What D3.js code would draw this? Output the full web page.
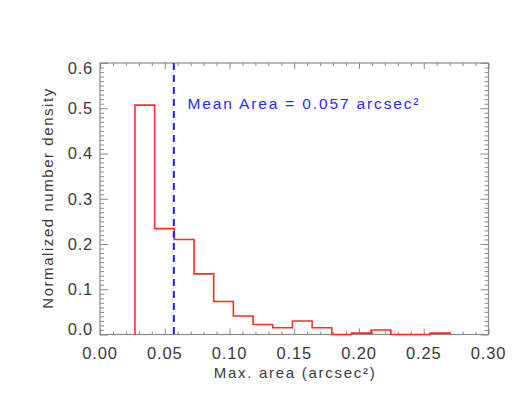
<!DOCTYPE html>
<html>
<head>
<meta charset="utf-8">
<script src="https://cdn.jsdelivr.net/npm/d3@7"></script>
<style>
  html, body { margin: 0; padding: 0; background: #fff; }
  svg text { font-family: "Liberation Sans", Arial, sans-serif; }
</style>
</head>
<body>
<svg id="chart" width="518" height="414"></svg>
<script>
// ---- data ----
const binLeft = [0.0270, 0.0422, 0.0574, 0.0726, 0.0878, 0.1030, 0.1182, 0.1334,
                 0.1486, 0.1638, 0.1790, 0.1942, 0.2094, 0.2246, 0.2398, 0.2550];
const binRightEnd = 0.2702;
const density = [0.507, 0.234, 0.210, 0.134, 0.073, 0.041, 0.022, 0.015,
                 0.030, 0.015, 0.000, 0.003, 0.010, 0.000, 0.000, 0.003];
const meanArea = 0.057;
const xTicks = [0.00, 0.05, 0.10, 0.15, 0.20, 0.25, 0.30];
const yTicks = [0.0, 0.1, 0.2, 0.3, 0.4, 0.5, 0.6];
const xLabel = "Max. area (arcsec²)";
const yLabel = "Normalized number density";
const meanLabel = "Mean Area = 0.057 arcsec²";

// ---- layout ----
const L = 100, R = 488.5, T = 63, B = 334.5;
const svg = d3.select("#chart");
const x = d3.scaleLinear().domain([0, 0.3]).range([L, R]);
const y = d3.scaleLinear().domain([0, 0.6]).range([B, T]);

const axisColor = "#8a8a8a";
const textColor = "#3a3a3a";

const xMinor = d3.range(0, 31).map(i => i / 100);
const yMinor = d3.range(0, 61).map(i => i / 100);

const g = svg.append("g");

function isMajor(v, step) { return Math.abs(v / step - Math.round(v / step)) < 1e-6; }

g.append("g").attr("transform", `translate(0,${B})`)
  .call(d3.axisBottom(x).tickValues(xMinor).tickSizeInner(0).tickSizeOuter(0).tickFormat(""))
  .call(a => a.select(".domain").remove())
  .call(a => a.selectAll(".tick line").attr("y2", d => isMajor(d, 0.05) ? -6 : -3).attr("stroke", axisColor));
g.append("g").attr("transform", `translate(0,${T})`)
  .call(d3.axisTop(x).tickValues(xMinor).tickSizeInner(0).tickSizeOuter(0).tickFormat(""))
  .call(a => a.select(".domain").remove())
  .call(a => a.selectAll(".tick line").attr("y2", d => isMajor(d, 0.05) ? 6 : 3).attr("stroke", axisColor));
g.append("g").attr("transform", `translate(${L},0)`)
  .call(d3.axisLeft(y).tickValues(yMinor).tickSizeInner(0).tickSizeOuter(0).tickFormat(""))
  .call(a => a.select(".domain").remove())
  .call(a => a.selectAll(".tick line").attr("x2", d => isMajor(d, 0.1) ? 8 : 4).attr("stroke", axisColor));
g.append("g").attr("transform", `translate(${R},0)`)
  .call(d3.axisRight(y).tickValues(yMinor).tickSizeInner(0).tickSizeOuter(0).tickFormat(""))
  .call(a => a.select(".domain").remove())
  .call(a => a.selectAll(".tick line").attr("x2", d => isMajor(d, 0.1) ? -8 : -4).attr("stroke", axisColor));

g.append("rect").attr("x", L).attr("y", T).attr("width", R - L).attr("height", B - T)
  .attr("fill", "none").attr("stroke", axisColor).attr("stroke-width", 1.2);

g.selectAll(".xl").data(xTicks).join("text")
  .attr("x", d => x(d)).attr("y", 359)
  .attr("text-anchor", "middle").attr("font-size", 16.5).attr("fill", textColor)
  .attr("letter-spacing", 0.8)
  .text(d => d3.format(".2f")(d));
g.selectAll(".yl").data(yTicks).join("text")
  .attr("x", 93).attr("y", d => Math.min(B - 5, Math.max(T + 5, y(d))))
  .attr("dy", "0.36em")
  .attr("text-anchor", "end").attr("font-size", 16.5).attr("fill", textColor)
  .attr("letter-spacing", 0.8)
  .text(d => d3.format(".1f")(d));

g.append("text").attr("x", (L + R) / 2).attr("y", 378)
  .attr("text-anchor", "middle").attr("font-size", 15).attr("fill", textColor)
  .attr("textLength", 161).attr("lengthAdjust", "spacing")
  .text(xLabel);
g.append("text").attr("transform", `translate(53,${(T + B) / 2}) rotate(-90)`)
  .attr("text-anchor", "middle").attr("font-size", 15).attr("fill", textColor)
  .attr("textLength", 220).attr("lengthAdjust", "spacing")
  .text(yLabel);

const pts = [[binLeft[0], 0]];
density.forEach((v, i) => {
  const right = i < binLeft.length - 1 ? binLeft[i + 1] : binRightEnd;
  pts.push([binLeft[i], v]);
  pts.push([right, v]);
});
pts.push([binRightEnd, 0]);
g.append("path")
  .attr("d", d3.line().x(d => x(d[0])).y(d => y(d[1]))(pts))
  .attr("fill", "none").attr("stroke", "#ff2a2a").attr("stroke-width", 1.6);

g.append("line")
  .attr("x1", x(meanArea)).attr("x2", x(meanArea)).attr("y1", T).attr("y2", B)
  .attr("stroke", "#1f1fff").attr("stroke-width", 2).attr("stroke-dasharray", "7,5");

g.append("text").attr("x", 187.5).attr("y", 108.5)
  .attr("font-size", 15.5).attr("fill", "#2a2aff")
  .attr("textLength", 231).attr("lengthAdjust", "spacing")
  .text(meanLabel);
</script>
</body>
</html>
